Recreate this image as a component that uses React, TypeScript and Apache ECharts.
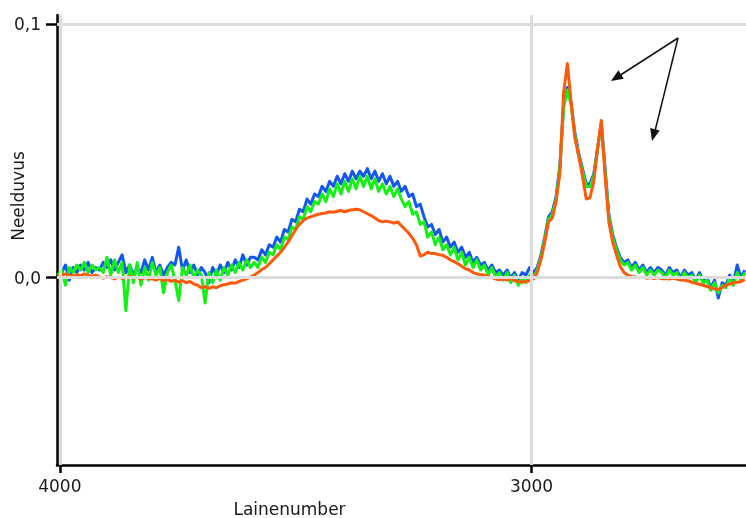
import React, { useEffect, useRef } from "react";
import * as echarts from "echarts";

// Spectra sampled every 8 cm^-1 starting at 4004 cm^-1 (values in milli-absorbance units)
const X_START = 4004;
const X_STEP = 8;

const blueMilli = [
  1, 2, 5, -1, 4, 2, 5, 3, 6, 2,
  4, 3, 6, 4, 7, 3, 6, 9, 2, 5,
  1, 4, 2, 7, 3, 8, 2, 5, 1, 4,
  6, 5, 12, 3, 7, 2, 5, 1, 4, 2,
  -2, 4, 1, 5, 2, 6, 3, 7, 4, 9,
  5, 8, 8, 7, 11, 9, 13, 12, 16, 14,
  19, 18, 23, 22, 27, 26, 31, 29, 33, 32,
  36, 34, 38, 36, 40, 37, 41, 38, 42, 39,
  42, 40, 43, 39, 42, 38, 41, 37, 40, 36,
  38, 34, 36, 32, 33, 28, 29, 24, 20, 21,
  17, 19, 14, 16, 12, 14, 10, 12, 8, 10,
  6, 8, 5, 6, 3, 5, 2, 3, 1, 3,
  0, 2, -1, 2, 1, 4, 2, 4, 9, 16,
  24, 26, 32, 44, 68, 75, 69, 57, 49, 43,
  37, 37, 41, 51, 61, 43, 25, 17, 12, 8,
  6, 7, 4, 6, 3, 5, 2, 4, 2, 4,
  3, 1, 4, 2, 3, 0, 3, 1, 2, -1,
  2, -1, 0, -4, -1, -8, -2, -3, 1, -2,
  5, 0, 3,
];

const greenMilli = [
  1, 3, -3, 4, 2, 5, 3, 6, 2, 5,
  3, 4, 2, 8, 1, 7, 2, 6, -13, 5,
  -2, 6, -3, 4, -1, 6, 1, 4, -6, 2,
  5, -1, -9, 4, 1, 5, 0, 3, 1, -10,
  2, -2, 3, -1, 4, 1, 5, 2, 6, 3,
  7, 4, 6, 4, 8, 6, 10, 9, 13, 11,
  16, 15, 20, 19, 24, 23, 28, 26, 30, 29,
  33, 30, 35, 32, 37, 33, 38, 34, 39, 35,
  40, 36, 40, 35, 39, 34, 37, 33, 36, 32,
  35, 31, 28, 30, 25, 26, 21, 22, 16, 18,
  13, 16, 11, 13, 9, 12, 7, 10, 5, 8,
  4, 7, 3, 5, 1, 4, 0, 2, -1, 2,
  -2, 1, -3, 0, -2, 1, 0, 3, 8, 15,
  23, 25, 31, 43, 67, 74, 68, 56, 48, 42,
  36, 36, 40, 51, 60, 42, 24, 16, 11, 7,
  5, 6, 3, 5, 2, 4, 1, 3, 1, 3,
  2, 0, 3, 1, 2, -1, 2, 0, 1, -2,
  1, -2, -1, -5, -2, -6, -3, -4, 0, -3,
  2, -1, 2,
];

const orangeMilli = [
  0.5, 1, 1.5, 1, 0.6, 1.2, 0.8, 1.5, 1, 0.6,
  1, 0.3, -0.2, 0.4, 0, -0.5, 0.2, -0.3, 0, 0.5,
  -0.2, 0.1, -0.6, 0, -0.3, -0.5, -1, -0.3, -1.2, -0.8,
  -1.5, -1, -1.8, -1.2, -2, -1.5, -2.5, -3, -4, -3.5,
  -4.2, -3.6, -4, -3.2, -2.8, -2.5, -2, -2.2, -1.5, -1,
  -0.5, 0.2, 1, 2, 3.2, 4, 5.5, 7, 8.5, 10,
  12, 14, 16.5, 19, 21, 22.5, 23.5, 24, 24.5, 25,
  25.3, 25.5, 26, 25.8, 26.2, 26.5, 26, 26.5, 26.8, 27,
  26.8, 26, 25.2, 24.5, 23.5, 22.5, 22, 22.3, 22, 21.5,
  22, 20.5, 19, 17.5, 15.5, 13, 8.5, 9, 10, 9.5,
  9.5, 9, 8.8, 8, 7, 6.3, 5.5, 4.5, 3.5, 3,
  2, 1.5, 1.2, 1, 0.5, 0, -0.5, -0.8, -0.5, -1,
  -0.3, -1.2, -1.5, -1.8, -1.5, -1.2, -0.5, 2, 7, 14,
  22, 23.5, 30, 41, 73, 84.5, 69, 55, 48, 40,
  31, 31.5, 38, 51, 62, 40, 22, 14, 9, 4.5,
  2, 1, 0.5, 0.3, 0, 0.2, -0.2, 0, -0.3, 0,
  -0.4, -0.3, -0.5, -0.2, -0.6, -0.8, -1, -1.3, -1.8, -2.2,
  -2.6, -3, -3.5, -4, -4.5, -4.6, -4, -3, -2.5, -2,
  -1.8, -1.5, -0.8,
];

const xTicks = [4000, 3000];
const yTicks = [0, 0.1];
const xGridLines = [4000, 3000];
const yGridLines = [0, 0.1];

const FONT = "DejaVu Sans";
const TEXT = "#1a1a1a";

function toPairs(vals: number[]) {
  return vals.map((v, i) => [X_START - X_STEP * i, v / 1000]);
}

export default function App() {
  const ref = useRef<HTMLDivElement>(null);
  useEffect(() => {
    if (!ref.current) return;
    const chart = echarts.init(ref.current, undefined, { renderer: "svg" });
    const lineSeries = (name: string, vals: number[], color: string, z: number) => ({
      name,
      type: "line",
      data: toPairs(vals),
      showSymbol: false,
      symbol: "none",
      silent: true,
      z,
      lineStyle: { color, width: 3, join: "round" },
      emphasis: { disabled: true },
    });
    chart.setOption({
      animation: false,
      grid: { left: 57, right: 0, top: 15, bottom: 53, containLabel: false },
      xAxis: {
        type: "value",
        inverse: true,
        min: 2545.3,
        max: 4006,
        axisLine: { show: true, onZero: false, lineStyle: { color: "#000", width: 2.5 } },
        axisTick: { show: true, customValues: xTicks, length: 8, lineStyle: { color: "#000", width: 2.5 } },
        axisLabel: {
          customValues: xTicks,
          color: TEXT,
          fontSize: 17,
          fontFamily: FONT,
          margin: 12,
          formatter: (v: number) => String(v),
        },
        splitLine: { show: false },
      },
      yAxis: {
        type: "value",
        min: -0.0739,
        max: 0.1036,
        axisLine: { show: true, onZero: false, lineStyle: { color: "#000", width: 2.5 } },
        axisTick: { show: true, customValues: yTicks, length: 11, lineStyle: { color: "#000", width: 2.5 } },
        axisLabel: {
          customValues: yTicks,
          color: TEXT,
          fontSize: 17,
          fontFamily: FONT,
          margin: 16,
          formatter: (v: number) => v.toFixed(1).replace(".", ","),
        },
        splitLine: { show: false },
      },
      series: [
        {
          type: "line",
          data: [[4000, 0]],
          showSymbol: false,
          symbol: "none",
          silent: true,
          z: 1,
          lineStyle: { opacity: 0, width: 0 },
          markLine: {
            silent: true,
            symbol: "none",
            animation: false,
            label: { show: false },
            lineStyle: { color: "#dcdcdc", width: 3, type: "solid" },
            data: [
              ...yGridLines.map((v) => ({ yAxis: v })),
              ...xGridLines.map((v) => ({ xAxis: v })),
            ],
          },
        },
        lineSeries("blue", blueMilli, "#1258f0", 2),
        lineSeries("green", greenMilli, "#14f014", 3),
        lineSeries("orange", orangeMilli, "#ff5a0c", 4),
      ],
      graphic: [
        {
          type: "text",
          x: 18,
          y: 196,
          rotation: Math.PI / 2,
          style: {
            text: "Neelduvus",
            fontSize: 17,
            fontFamily: FONT,
            fill: TEXT,
            align: "center",
            verticalAlign: "middle",
          },
        },
        {
          type: "text",
          x: 289.5,
          y: 509,
          style: {
            text: "Lainenumber",
            fontSize: 17,
            fontFamily: FONT,
            fill: TEXT,
            align: "center",
            verticalAlign: "middle",
          },
        },
        { type: "line", shape: { x1: 678, y1: 38, x2: 619, y2: 76 }, style: { stroke: "#111", lineWidth: 1.5 } },
        { type: "polygon", shape: { points: [[611, 81], [623.8, 78.7], [618.4, 70.3]] }, style: { fill: "#111" } },
        { type: "line", shape: { x1: 678, y1: 38, x2: 655, y2: 131 }, style: { stroke: "#111", lineWidth: 1.5 } },
        { type: "polygon", shape: { points: [[652, 141], [659.8, 130.6], [650.2, 128.1]] }, style: { fill: "#111" } },
      ],
    });
    return () => chart.dispose();
  }, []);
  return (
    <div
      ref={ref}
      style={{ position: "fixed", left: 0, top: 0, width: 746, height: 518 }}
    />
  );
}
